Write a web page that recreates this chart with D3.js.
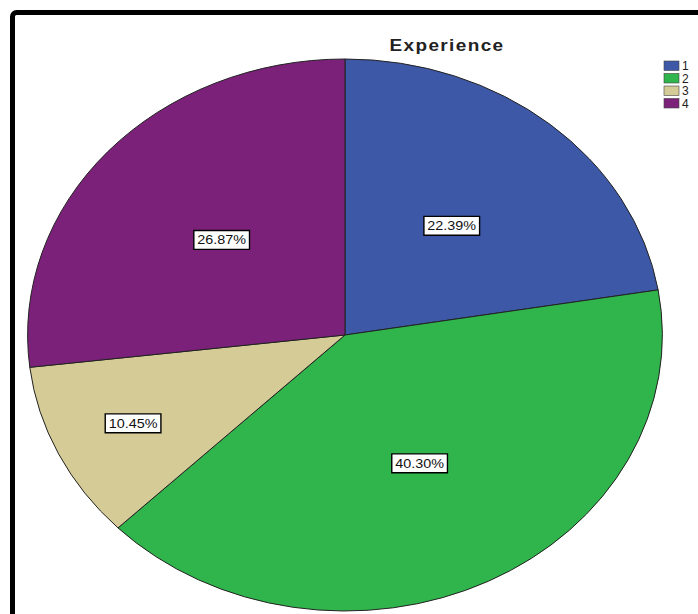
<!DOCTYPE html>
<html>
<head>
<meta charset="utf-8">
<script src="https://cdn.jsdelivr.net/npm/d3@7"></script>
<style>
  html, body { margin: 0; padding: 0; background: #fff; }
  svg { display: block; }
</style>
</head>
<body>
<div id="chart"></div>
<script>
const title = "Experience";
const categories = ["1", "2", "3", "4"];
const values = [22.39, 40.30, 10.45, 26.87];
const colors = ["#3e58a8", "#2fb54b", "#d5cb97", "#7b2179"];

const W = 698, H = 614;
const svg = d3.select("#chart").append("svg").attr("width", W).attr("height", H);

// frame
svg.append("rect")
  .attr("x", 12.5).attr("y", 12.5)
  .attr("width", 760).attr("height", 700)
  .attr("rx", 4)
  .attr("fill", "#fff")
  .attr("stroke", "#000")
  .attr("stroke-width", 5);

// title
svg.append("text")
  .attr("transform", "translate(447,51) scale(1.15,1)")
  .attr("text-anchor", "middle")
  .attr("font-family", "Liberation Sans, Arial, sans-serif")
  .attr("font-weight", "bold")
  .attr("font-size", 16.5)
  .attr("letter-spacing", "1.2px")
  .attr("fill", "#222")
  .text(title);

// pie (drawn as circle, stretched horizontally into ellipse)
const R = 276;
const sx = 1.15;
const g = svg.append("g").attr("transform", `translate(345,335) scale(${sx},1)`);

const pie = d3.pie().sort(null).value(d => d);
const arcs = pie(values);
const arc = d3.arc().innerRadius(0).outerRadius(R);

g.selectAll("path.slice")
  .data(arcs)
  .enter().append("path")
  .attr("class", "slice")
  .attr("d", arc)
  .attr("fill", (d, i) => colors[i])
  .attr("stroke", "#222")
  .attr("stroke-width", 1)
  .attr("vector-effect", "non-scaling-stroke");

// labels
const fmt = v => v.toFixed(2) + "%";
const lab = g.selectAll("g.lab")
  .data(arcs)
  .enter().append("g")
  .attr("class", "lab")
  .attr("transform", d => {
    const a = (d.startAngle + d.endAngle) / 2;
    const lr = (d.value < 15 ? 0.74 : 0.52) * R;
    return `translate(${lr * Math.sin(a)},${-lr * Math.cos(a)})`;
  });

lab.append("text")
  .attr("text-anchor", "middle")
  .attr("dy", "0.36em")
  .attr("font-family", "Liberation Sans, Arial, sans-serif")
  .attr("font-size", 12.5)
  .attr("fill", "#111")
  .text(d => fmt(d.value));

lab.each(function() {
  const gg = d3.select(this);
  const bb = gg.select("text").node().getBBox();
  gg.insert("rect", "text")
    .attr("x", bb.x - 3).attr("y", bb.y - 2.5)
    .attr("width", bb.width + 6).attr("height", bb.height + 5)
    .attr("fill", "#fff")
    .attr("stroke", "#000")
    .attr("stroke-width", 1.4)
    .attr("vector-effect", "non-scaling-stroke");
});

// legend
const leg = svg.append("g").attr("transform", "translate(664,61)");
const li = leg.selectAll("g").data(categories).enter().append("g")
  .attr("transform", (d, i) => `translate(0,${i * 12.5})`);
li.append("rect")
  .attr("width", 15).attr("height", 9.5)
  .attr("fill", (d, i) => colors[i])
  .attr("stroke", "#444").attr("stroke-width", 0.6);
li.append("text")
  .attr("x", 18).attr("y", 9)
  .attr("font-family", "Liberation Sans, Arial, sans-serif")
  .attr("font-size", 12)
  .attr("fill", "#222")
  .text(d => d);
</script>
</body>
</html>
